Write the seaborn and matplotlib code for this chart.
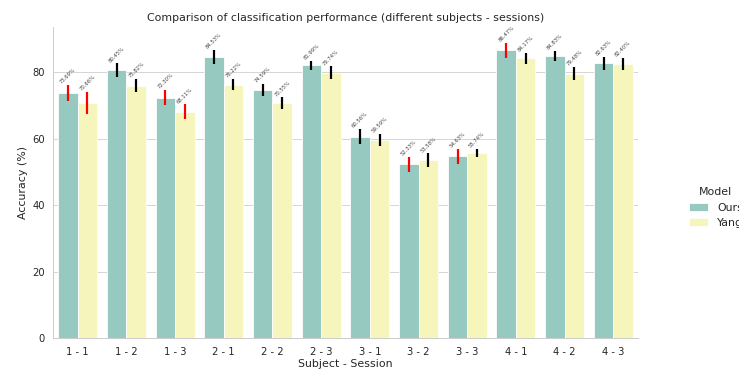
import matplotlib
matplotlib.use("Agg")
import matplotlib.pyplot as plt
import seaborn as sns
import pandas as pd
import numpy as np

sessions = ["1 - 1", "1 - 2", "1 - 3", "2 - 1", "2 - 2", "2 - 3",
            "3 - 1", "3 - 2", "3 - 3", "4 - 1", "4 - 2", "4 - 3"]
models = ["Ours", "Yang"]
ours_acc = [73.69, 80.45, 72.30, 84.53, 74.59, 81.99, 60.56, 52.33, 54.63, 86.47, 84.83, 82.63]
yang_acc = [70.66, 75.82, 68.11, 76.22, 70.55, 79.74, 59.59, 53.58, 55.74, 84.17, 79.48, 82.40]
ours_err = [2.35, 2.1, 2.3, 2.05, 1.75, 1.4, 2.25, 2.25, 2.25, 2.3, 1.5, 2.0]
yang_err = [3.3, 2.0, 2.15, 1.65, 1.8, 1.9, 1.75, 2.0, 1.2, 1.65, 2.0, 1.85]
ours_red = [True, False, True, False, False, False, False, True, True, True, False, False]
yang_red = [True, False, True, False, False, False, False, False, False, False, False, False]

df = pd.DataFrame({
    "Subject - Session": sessions * 2,
    "Accuracy (%)": ours_acc + yang_acc,
    "Model": [models[0]] * len(sessions) + [models[1]] * len(sessions),
})

sns.set_theme(style="whitegrid", context="paper")
plt.rcParams["font.family"] = ["DejaVu Sans"]

fig = plt.figure(figsize=(739 / 72, 372 / 72), dpi=72)
ax = fig.add_axes([53.3 / 739, 1 - 338.3 / 372, (637.7 - 53.3) / 739, (338.3 - 27.3) / 372])

sns.barplot(data=df, x="Subject - Session", y="Accuracy (%)", hue="Model",
            palette="Set3", ax=ax, errorbar=None)

errs = [ours_err, yang_err]
reds = [ours_red, yang_red]
vals = [ours_acc, yang_acc]
bar_conts = list(ax.containers)[:2]
for k, cont in enumerate(bar_conts):
    for i, bar in enumerate(cont.patches):
        xc = bar.get_x() + bar.get_width() / 2
        h = bar.get_height()
        e = errs[k][i]
        ax.errorbar(xc, h, yerr=e, fmt="none",
                    ecolor="red" if reds[k][i] else "black",
                    elinewidth=2.2, capsize=0, zorder=3)
        ax.text(xc, h + e, f"{vals[k][i]:.2f}%", rotation=45,
                ha="center", va="bottom", fontsize=5.3, color="#444444")

ax.set_ylim(0, 93.4)
ax.set_xlim(-0.5, 11.5)
ax.set_yticks([0, 20, 40, 60, 80])
ax.set_title("Comparison of classification performance (different subjects - sessions)",
             fontsize=11, pad=6)
ax.set_xlabel("Subject - Session", fontsize=11, labelpad=2)
ax.set_ylabel("Accuracy (%)", fontsize=11)
ax.tick_params(axis="both", labelsize=10)
sns.despine(ax=ax)

sns.move_legend(ax, "center left", bbox_to_anchor=(1.07, 0.42), frameon=False,
                title="Model", fontsize=11, title_fontsize=11,
                handlelength=1.8, handletextpad=0.8)

fig.savefig("out.png", dpi=72)
